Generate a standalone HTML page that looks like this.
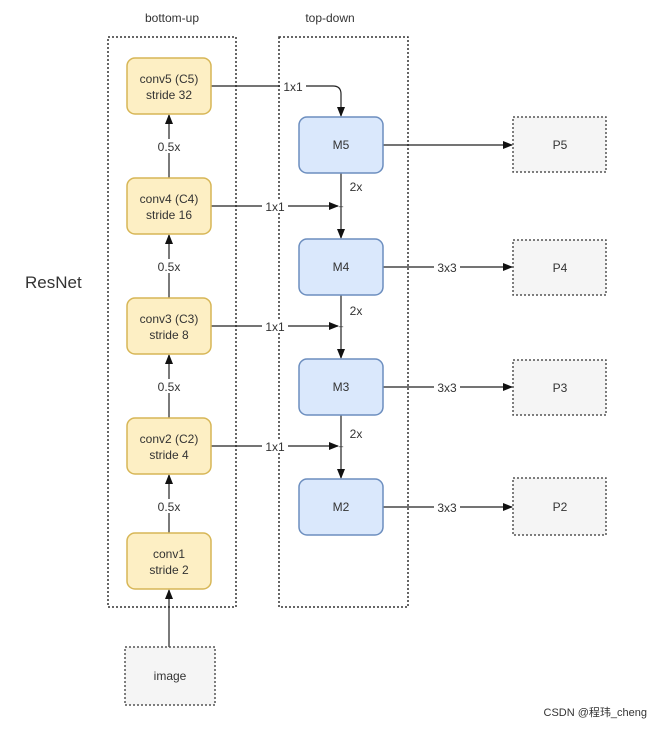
<!DOCTYPE html>
<html><head><style>
body{margin:0;background:#fff;}
svg text{font-family:"Liberation Sans",sans-serif;fill:#333;}
</style></head><body>
<svg width="655" height="726" viewBox="0 0 655 726" xmlns="http://www.w3.org/2000/svg">
<defs>
<marker id="a" markerWidth="10" markerHeight="10" refX="9" refY="5" orient="auto" markerUnits="userSpaceOnUse">
<path d="M0,1 L10,5 L0,9 Z" fill="#111"/></marker>
</defs>
<rect width="655" height="726" fill="#fff"/>
<text x="172" y="22" font-size="12" text-anchor="middle">bottom-up</text>
<text x="330" y="22" font-size="12" text-anchor="middle">top-down</text>
<text x="25" y="288" font-size="17" fill="#222">ResNet</text>
<rect x="108" y="37" width="128" height="570" fill="none" stroke="#333" stroke-width="1.5" stroke-dasharray="2,2"/>
<rect x="279" y="37" width="129" height="570" fill="none" stroke="#333" stroke-width="1.5" stroke-dasharray="2,2"/>
<g stroke="#222" stroke-width="1.2" fill="none">
<!-- bottom-up arrows -->
<line x1="169" y1="647" x2="169" y2="590" marker-end="url(#a)"/>
<line x1="169" y1="533" x2="169" y2="475" marker-end="url(#a)"/>
<line x1="169" y1="418" x2="169" y2="355" marker-end="url(#a)"/>
<line x1="169" y1="298" x2="169" y2="235" marker-end="url(#a)"/>
<line x1="169" y1="178" x2="169" y2="115" marker-end="url(#a)"/>
<!-- lateral -->
<path d="M211,86 H333 Q341,86 341,94 V116" marker-end="url(#a)"/>
<line x1="211" y1="206" x2="338" y2="206" marker-end="url(#a)"/>
<line x1="211" y1="326" x2="338" y2="326" marker-end="url(#a)"/>
<line x1="211" y1="446" x2="338" y2="446" marker-end="url(#a)"/>
<!-- top-down -->
<line x1="341" y1="173" x2="341" y2="238" marker-end="url(#a)"/>
<line x1="341" y1="295" x2="341" y2="358" marker-end="url(#a)"/>
<line x1="341" y1="415" x2="341" y2="478" marker-end="url(#a)"/>
<!-- outputs -->
<line x1="383" y1="145" x2="512" y2="145" marker-end="url(#a)"/>
<line x1="383" y1="267" x2="512" y2="267" marker-end="url(#a)"/>
<line x1="383" y1="387" x2="512" y2="387" marker-end="url(#a)"/>
<line x1="383" y1="507" x2="512" y2="507" marker-end="url(#a)"/>
</g>
<g font-size="12" text-anchor="middle">
<rect x="150" y="139" width="38" height="14" fill="#fff"/><text x="169" y="151">0.5x</text>
<rect x="150" y="259" width="38" height="14" fill="#fff"/><text x="169" y="271">0.5x</text>
<rect x="150" y="379" width="38" height="14" fill="#fff"/><text x="169" y="391">0.5x</text>
<rect x="150" y="499" width="38" height="14" fill="#fff"/><text x="169" y="511">0.5x</text>
<rect x="280" y="80" width="26" height="13" fill="#fff"/><text x="293" y="91">1x1</text>
<rect x="262" y="200" width="26" height="13" fill="#fff"/><text x="275" y="211">1x1</text>
<rect x="262" y="320" width="26" height="13" fill="#fff"/><text x="275" y="331">1x1</text>
<rect x="262" y="440" width="26" height="13" fill="#fff"/><text x="275" y="451">1x1</text>
<rect x="434" y="261" width="26" height="13" fill="#fff"/><text x="447" y="272">3x3</text>
<rect x="434" y="381" width="26" height="13" fill="#fff"/><text x="447" y="392">3x3</text>
<rect x="434" y="501" width="26" height="13" fill="#fff"/><text x="447" y="512">3x3</text>
<text x="356" y="191">2x</text><text x="356" y="315">2x</text><text x="356" y="438">2x</text>
<text x="341" y="210" font-size="9">+</text><text x="341" y="330" font-size="9">+</text><text x="341" y="450" font-size="9">+</text>
</g>
<g fill="#fdefc4" stroke="#d7b656" stroke-width="1.5">
<rect x="127" y="58" width="84" height="56" rx="8"/>
<rect x="127" y="178" width="84" height="56" rx="8"/>
<rect x="127" y="298" width="84" height="56" rx="8"/>
<rect x="127" y="418" width="84" height="56" rx="8"/>
<rect x="127" y="533" width="84" height="56" rx="8"/>
</g>
<g fill="#dae8fc" stroke="#6c8ebf" stroke-width="1.5">
<rect x="299" y="117" width="84" height="56" rx="8"/>
<rect x="299" y="239" width="84" height="56" rx="8"/>
<rect x="299" y="359" width="84" height="56" rx="8"/>
<rect x="299" y="479" width="84" height="56" rx="8"/>
</g>
<g fill="#f5f5f5" stroke="#555" stroke-width="1.5" stroke-dasharray="2,2">
<rect x="513" y="117" width="93" height="55"/>
<rect x="513" y="240" width="93" height="55"/>
<rect x="513" y="360" width="93" height="55"/>
<rect x="513" y="478" width="93" height="57"/>
<rect x="125" y="647" width="90" height="58"/>
</g>
<g font-size="12" text-anchor="middle">
<text x="169" y="83">conv5 (C5)</text><text x="169" y="99">stride 32</text>
<text x="169" y="203">conv4 (C4)</text><text x="169" y="219">stride 16</text>
<text x="169" y="323">conv3 (C3)</text><text x="169" y="339">stride 8</text>
<text x="169" y="443">conv2 (C2)</text><text x="169" y="459">stride 4</text>
<text x="169" y="558">conv1</text><text x="169" y="574">stride 2</text>
<text x="341" y="149">M5</text><text x="341" y="271">M4</text><text x="341" y="391">M3</text><text x="341" y="511">M2</text>
<text x="560" y="149">P5</text><text x="560" y="272">P4</text><text x="560" y="392">P3</text><text x="560" y="511">P2</text>
<text x="170" y="680">image</text>
</g>
<text x="647" y="716" font-size="11" text-anchor="end" fill="#999" style="font-family:'Liberation Sans','Noto Sans CJK SC',sans-serif">CSDN @程玮_cheng</text>
</svg>
</body></html>
